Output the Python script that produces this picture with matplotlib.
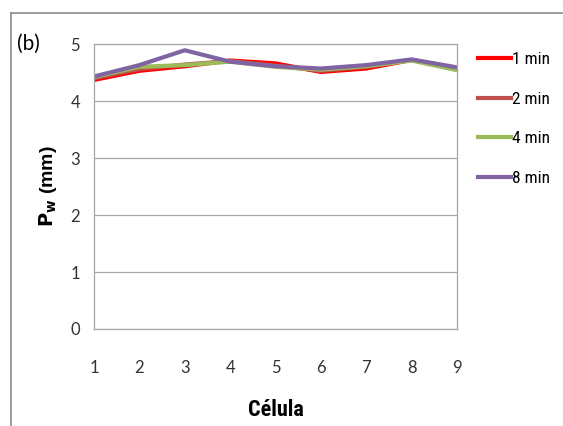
import matplotlib
matplotlib.use("Agg")
import matplotlib.pyplot as plt
from matplotlib.lines import Line2D

narrow = ['Liberation Sans Narrow', 'Roboto Condensed', 'DejaVu Sans Condensed', 'Liberation Sans']
plt.rcParams['font.family'] = ['Lato', 'DejaVu Sans']

celulas = [1, 2, 3, 4, 5, 6, 7, 8, 9]
labels = ["1 min", "2 min", "4 min", "8 min"]
pw_1min = [4.37, 4.53, 4.61, 4.71, 4.66, 4.51, 4.57, 4.72, 4.57]
pw_2min = [4.40, 4.56, 4.64, 4.70, 4.62, 4.53, 4.60, 4.72, 4.57]
pw_4min = [4.42, 4.60, 4.63, 4.69, 4.60, 4.55, 4.61, 4.71, 4.54]
pw_8min = [4.43, 4.63, 4.89, 4.69, 4.61, 4.57, 4.63, 4.73, 4.59]
colors = ["#FF0000", "#C0504D", "#9BBB59", "#8064A2"]

fig = plt.figure(figsize=(5.63, 4.26), dpi=100)
ax = fig.add_axes([0.167, 0.2277, 0.6447, 0.669])

for vals, lab, c in zip([pw_1min, pw_2min, pw_4min, pw_8min], labels, colors):
    ax.plot(celulas, vals, color=c, linewidth=3.0, label=lab, solid_joinstyle="round")

ax.set_xlim(1, 9)
ax.set_ylim(0, 5)
ax.set_xticks(celulas)
ax.set_yticks(range(6))
ax.tick_params(length=0, labelsize=12, colors="#333333")
ax.tick_params(axis="x", pad=22)
ax.tick_params(axis="y", pad=10)
ax.yaxis.grid(True, color="#A6A6A6", linewidth=0.9)
for s in ax.spines.values():
    s.set_color("#A6A6A6")
    s.set_linewidth(0.9)

ax.set_xlabel("Célula", fontsize=16, fontweight="bold", labelpad=17, family=narrow)
ax.set_ylabel(r"$\mathbf{P_w}$ (mm)", fontsize=14, fontweight="bold", labelpad=8,
              family=['Liberation Sans', 'DejaVu Sans'])

ax.legend(loc="upper left", bbox_to_anchor=(462 / 563, 1 - 36 / 426),
          bbox_transform=fig.transFigure, frameon=False,
          prop={'family': narrow, 'size': 12.5},
          handlelength=1.9, handletextpad=0.1, labelspacing=1.42)

fig.text(17 / 563, 1 - 44 / 426, "(b)", fontsize=15, va="center")

# outer chart border (top and left edges)
fig.add_artist(Line2D([11 / 563, 11 / 563], [0, 1 - 13 / 426], color="#8C8C8C", linewidth=1.2))
fig.add_artist(Line2D([11 / 563, 1], [1 - 13 / 426, 1 - 13 / 426], color="#8C8C8C", linewidth=1.2))

fig.savefig("out.png", dpi=100)
